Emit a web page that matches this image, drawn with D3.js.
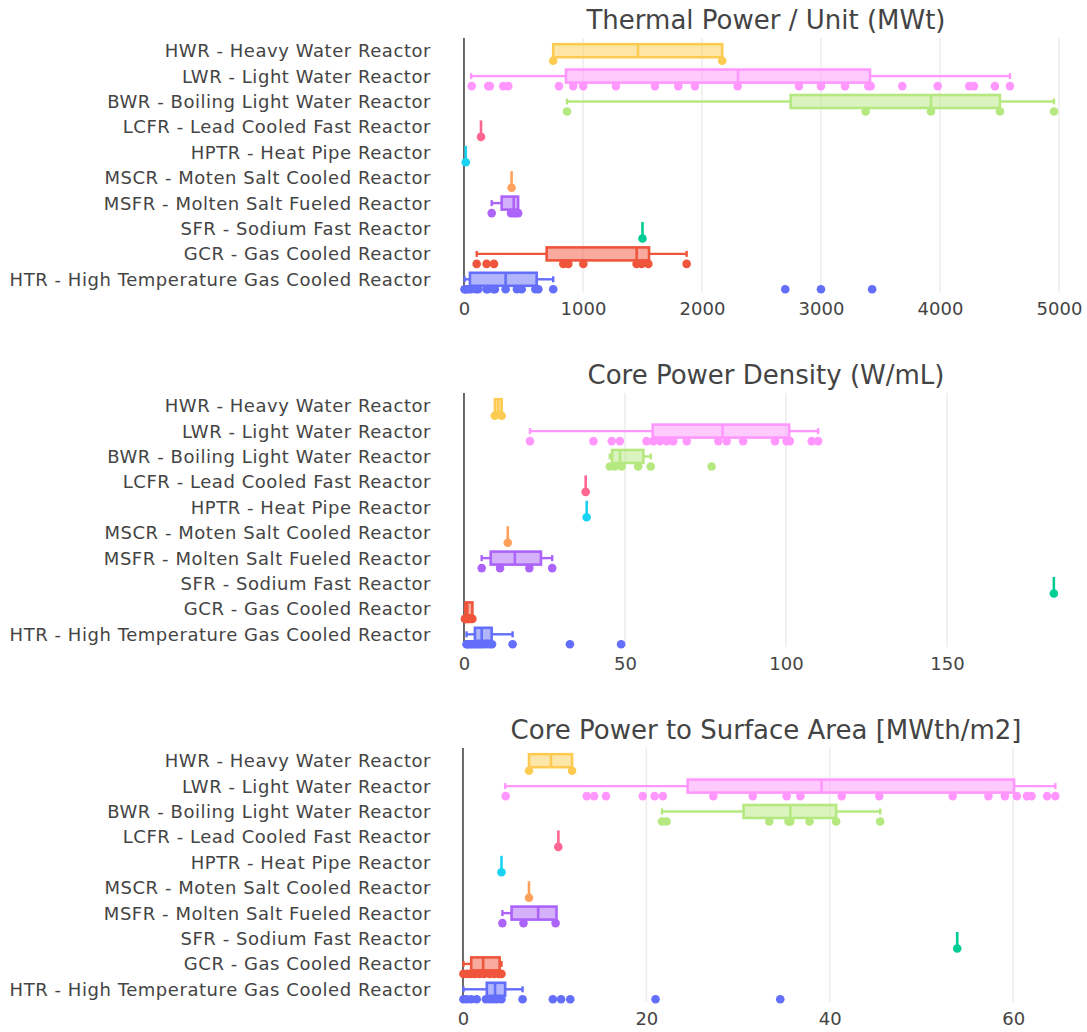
<!DOCTYPE html>
<html>
<head>
<meta charset="utf-8">
<script src="https://cdn.jsdelivr.net/npm/d3@7"></script>
<style>
  html, body { margin: 0; padding: 0; background: #fff; }
  svg { display: block; }
  text { font-family: "DejaVu Sans", Verdana, sans-serif; fill: #444; }
</style>
</head>
<body>
<svg id="chart" width="1087" height="1032"></svg>
<script>
// Reactor types, top row first
const categories = [
  "HWR - Heavy Water Reactor",
  "LWR - Light Water Reactor",
  "BWR - Boiling Light Water Reactor",
  "LCFR - Lead Cooled Fast Reactor",
  "HPTR - Heat Pipe Reactor",
  "MSCR - Moten Salt Cooled Reactor",
  "MSFR - Molten Salt Fueled Reactor",
  "SFR - Sodium Fast Reactor",
  "GCR - Gas Cooled Reactor",
  "HTR - High Temperature Gas Cooled Reactor"
];
const colors = ["#FECB52", "#FF97FF", "#B6E880", "#FF6692", "#19D3F3",
                "#FFA15A", "#AB63FA", "#00CC96", "#EF553B", "#636EFA"];

// Thermal power per unit (MWt): individual designs
const thermalPoints = [
  [750, 2170],
  [65, 204, 218, 330, 372, 798, 918, 1002, 1277, 1605, 1801, 1941, 2300, 2815, 3000, 3202, 3398, 3418, 3683, 3981, 4246, 4286, 4462, 4588],
  [866, 3375, 3924, 4504, 4958],
  [143],
  [15],
  [400],
  [233, 395, 418, 435, 455],
  [1500],
  [107, 190, 252, 835, 877, 1003, 1451, 1493, 1549, 1871],
  [5, 10, 20, 40, 60, 100, 120, 190, 200, 250, 260, 350, 445, 485, 600, 625, 750, 2700, 3000, 3430]
];
// [lower whisker, q1, median, q3, upper whisker]
const thermalBoxes = [
  [750, 750, 1462, 2170, 2170],
  [60, 857, 2303, 3412, 4588],
  [866, 2745, 3924, 4504, 4958],
  [143, 143, 143, 143, 143],
  [15, 15, 15, 15, 15],
  [400, 400, 400, 400, 400],
  [233, 317, 418, 455, 455],
  [1500, 1500, 1500, 1500, 1500],
  [107, 695, 1451, 1555, 1871],
  [5, 50, 350, 611, 750]
];
const thermalTicks = [0, 1000, 2000, 3000, 4000, 5000];

// Core power density (W/mL)
const densityPoints = [
  [9.6, 11.7],
  [20.5, 40.2, 45.9, 48.4, 56.7, 58.8, 60.9, 63, 65, 69.2, 79, 81.6, 86.7, 96.6, 100.2, 101.2, 108, 110],
  [45.3, 46.9, 49, 54.1, 58, 76.9],
  [37.8],
  [38.1],
  [13.6],
  [5.5, 11.2, 20.3, 27.4],
  [183.2],
  [0.3, 0.5, 0.8, 1.1, 1.5, 2.0, 2.6],
  [0.8, 1.2, 1.8, 2.5, 3.2, 3.8, 4.5, 5.2, 6.0, 7.0, 8.0, 8.7, 15.1, 32.9, 48.8]
];
const densityBoxes = [
  [9.6, 9.6, 10.6, 11.7, 11.7],
  [20.5, 58.6, 80.3, 101, 110],
  [45.3, 46, 48.5, 55.7, 58],
  [37.8, 37.8, 37.8, 37.8, 37.8],
  [38.1, 38.1, 38.1, 38.1, 38.1],
  [13.6, 13.6, 13.6, 13.6, 13.6],
  [5.5, 8.3, 15.8, 23.9, 27.4],
  [183.2, 183.2, 183.2, 183.2, 183.2],
  [0.3, 0.5, 1.0, 2.6, 2.6],
  [0.8, 3.4, 5.5, 8.6, 15.1]
];
const densityTicks = [0, 50, 100, 150];

// Core power to surface area (MWth/m2)
const areaPoints = [
  [7.2, 11.9],
  [4.66, 13.5, 14.3, 15.6, 19.6, 20.9, 21.8, 27.3, 31.6, 35.3, 36.8, 41.3, 45.4, 53.4, 57.3, 59.1, 60.4, 61.5, 62.0, 63.7, 64.6],
  [21.7, 22.2, 33.4, 35.5, 35.7, 37.8, 40.7, 45.5],
  [10.4],
  [4.2],
  [7.2],
  [4.3, 6.6, 10.1],
  [53.9],
  [0.05, 0.5, 0.9, 1.3, 1.8, 2.3, 2.9, 3.4, 3.9, 4.2],
  [0.05, 0.4, 0.9, 1.5, 2.5, 2.9, 3.3, 3.7, 4.2, 6.5, 9.8, 10.7, 11.7, 21.0, 34.6]
];
const areaBoxes = [
  [7.2, 7.2, 9.6, 11.9, 11.9],
  [4.6, 24.5, 39.1, 60.1, 64.6],
  [21.7, 30.6, 35.7, 40.7, 45.5],
  [10.4, 10.4, 10.4, 10.4, 10.4],
  [4.2, 4.2, 4.2, 4.2, 4.2],
  [7.2, 7.2, 7.2, 7.2, 7.2],
  [4.3, 5.3, 8.2, 10.2, 10.2],
  [53.9, 53.9, 53.9, 53.9, 53.9],
  [0.05, 0.9, 2.2, 4.0, 4.2],
  [0.05, 2.6, 3.5, 4.6, 6.5]
];
const areaTicks = [0, 20, 40, 60];

const panels = [
  { title: "Thermal Power / Unit (MWt)", points: thermalPoints, boxes: thermalBoxes,
    ticks: thermalTicks, domain: [-67, 5160], top: 38 },
  { title: "Core Power Density (W/mL)", points: densityPoints, boxes: densityBoxes,
    ticks: densityTicks, domain: [-2.48, 190.7], top: 393 },
  { title: "Core Power to Surface Area [MWth/m2]", points: areaPoints, boxes: areaBoxes,
    ticks: areaTicks, domain: [-0.76, 67.07], top: 748 }
];

const svg = d3.select("#chart");
const plotLeft = 456, plotRight = 1078, plotHeight = 254;
const boxHalf = 6.5, pointOffset = 10, pointR = 4.3;

panels.forEach(p => {
  const g = svg.append("g");
  const x = d3.scaleLinear().domain(p.domain).range([plotLeft, plotRight]);
  const y = d3.scaleBand().domain(categories).range([p.top, p.top + plotHeight]);
  const cy = c => y(c) + y.bandwidth() / 2;

  // title
  g.append("text")
    .attr("x", 766)
    .attr("y", p.top - 9)
    .attr("text-anchor", "middle")
    .style("font-size", "26px")
    .text(p.title);

  // vertical grid
  g.append("g").selectAll("line")
    .data(p.ticks.filter(t => t !== 0))
    .join("line")
    .attr("x1", d => x(d)).attr("x2", d => x(d))
    .attr("y1", p.top).attr("y2", p.top + plotHeight)
    .attr("stroke", "#ebebeb").attr("stroke-width", 1.4);

  // zero line
  g.append("line")
    .attr("x1", x(0)).attr("x2", x(0))
    .attr("y1", p.top).attr("y2", p.top + plotHeight)
    .attr("stroke", "#444").attr("stroke-width", 1.6);

  // x tick labels
  const ax = g.append("g")
    .attr("transform", `translate(0,${p.top + plotHeight})`)
    .call(d3.axisBottom(x).tickValues(p.ticks).tickSize(0).tickPadding(10).tickFormat(d3.format("d")));
  ax.select(".domain").remove();
  ax.selectAll("text").style("font-size", "18px").style("font-family", "DejaVu Sans, Verdana, sans-serif").attr("fill", "#444");

  // category labels
  g.append("g").selectAll("text")
    .data(categories)
    .join("text")
    .attr("x", 431)
    .attr("y", d => cy(d))
    .attr("dy", "0.36em")
    .attr("text-anchor", "end")
    .style("font-size", "18px")
    .style("letter-spacing", "0.55px")
    .text(d => d);

  // boxes, drawn bottom row first
  const order = d3.range(categories.length).reverse();
  order.forEach(i => {
    const c = categories[i];
    const col = colors[i];
    const [lo, q1, med, q3, hi] = p.boxes[i];
    const yc = cy(c);
    const bg = g.append("g");
    // whiskers
    if (lo < q1) {
      bg.append("line").attr("x1", x(lo)).attr("x2", x(q1)).attr("y1", yc).attr("y2", yc)
        .attr("stroke", col).attr("stroke-width", 2.4);
      bg.append("line").attr("x1", x(lo)).attr("x2", x(lo)).attr("y1", yc - 3).attr("y2", yc + 3)
        .attr("stroke", col).attr("stroke-width", 2.4);
    }
    if (hi > q3) {
      bg.append("line").attr("x1", x(q3)).attr("x2", x(hi)).attr("y1", yc).attr("y2", yc)
        .attr("stroke", col).attr("stroke-width", 2.4);
      bg.append("line").attr("x1", x(hi)).attr("x2", x(hi)).attr("y1", yc - 3).attr("y2", yc + 3)
        .attr("stroke", col).attr("stroke-width", 2.4);
    }
    // box
    bg.append("rect")
      .attr("x", x(q1)).attr("y", yc - boxHalf)
      .attr("width", Math.max(0, x(q3) - x(q1))).attr("height", boxHalf * 2)
      .attr("fill", col).attr("fill-opacity", 0.5)
      .attr("stroke", col).attr("stroke-width", 2.6);
    // median
    bg.append("line").attr("x1", x(med)).attr("x2", x(med))
      .attr("y1", yc - boxHalf).attr("y2", yc + boxHalf)
      .attr("stroke", col).attr("stroke-width", 2.6);
    // individual points
    bg.selectAll("circle")
      .data(p.points[i])
      .join("circle")
      .attr("cx", d => x(d))
      .attr("cy", yc + pointOffset)
      .attr("r", pointR)
      .attr("fill", col);
  });
});
</script>
</body>
</html>
